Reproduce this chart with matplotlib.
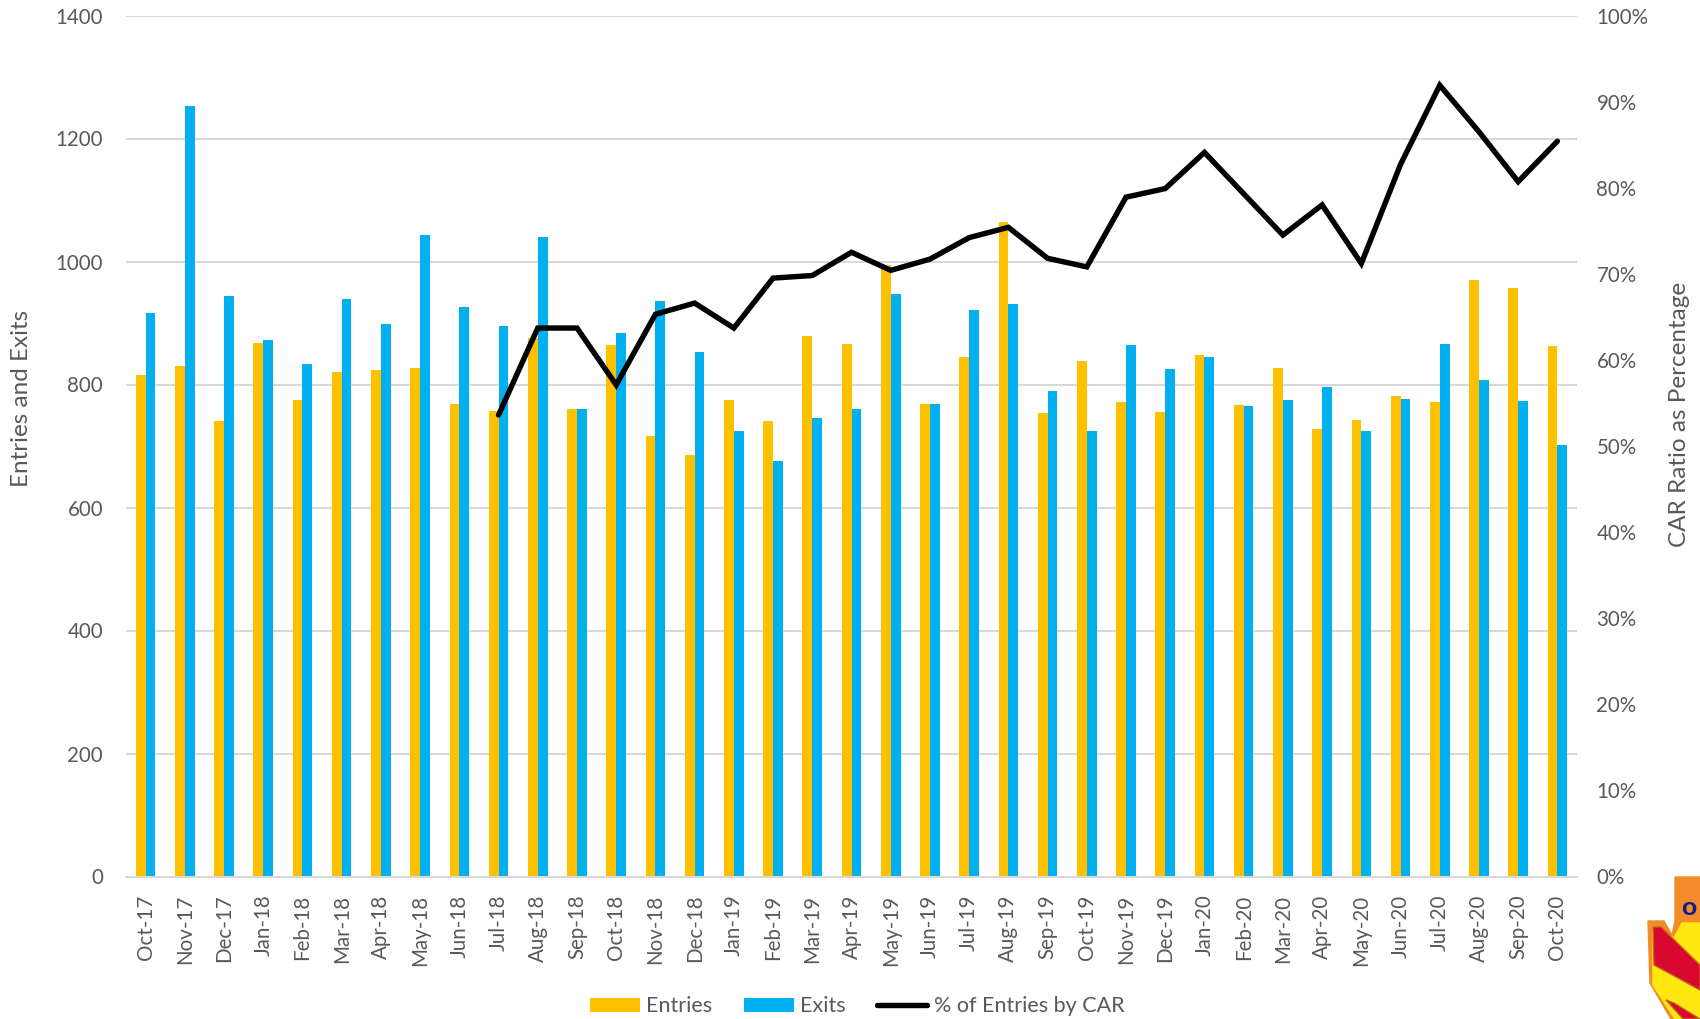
import numpy as np
import matplotlib
matplotlib.use('Agg')
from matplotlib import pyplot as plt
from matplotlib.patches import Polygon

plt.rcParams['font.family'] = ['Lato', 'DejaVu Sans']

months = ['Oct-17','Nov-17','Dec-17','Jan-18','Feb-18','Mar-18','Apr-18','May-18','Jun-18','Jul-18','Aug-18','Sep-18',
          'Oct-18','Nov-18','Dec-18','Jan-19','Feb-19','Mar-19','Apr-19','May-19','Jun-19','Jul-19','Aug-19','Sep-19',
          'Oct-19','Nov-19','Dec-19','Jan-20','Feb-20','Mar-20','Apr-20','May-20','Jun-20','Jul-20','Aug-20','Sep-20','Oct-20']
entries = [815,830,741,868,775,821,824,827,769,757,875,760,864,716,685,775,740,879,866,995,769,844,1065,754,
           838,772,755,848,767,827,727,743,781,772,970,957,863]
exits = [917,1253,944,873,833,939,899,1043,926,895,1040,760,884,936,853,725,676,745,760,947,769,921,931,790,
         724,865,825,844,765,775,796,725,776,866,808,773,701]
# CAR ratio only starts at Jul-18
car_start = 9
car_pct = [53.6,63.7,63.7,57.1,65.3,66.6,63.7,69.5,69.8,72.5,70.4,71.7,74.2,75.4,71.8,70.8,78.9,79.9,84.1,79.3,
           74.5,78.0,71.2,82.7,91.9,86.5,80.7,85.4]

W, H = 1700, 1019
grey = '#595959'
grid = '#D9D9D9'
fs = 14.8
fs_big = 17.5
fs_leg = 15.5

fig = plt.figure(figsize=(W/100, H/100), dpi=100)
ax = fig.add_axes([126/W, 1-876.5/H, (1577-126)/W, (876.5-15.5)/H])
x = np.arange(len(months))
bw = 0.25
b1 = ax.bar(x-bw/2, entries, bw, color='#FFC000', label='Entries', zorder=2)
b2 = ax.bar(x+bw/2, exits, bw, color='#00B0F0', label='Exits', zorder=2)
ax.set_xlim(-0.5, len(months)-0.5)
ax.set_ylim(0, 1400)
ax.set_yticks(range(0, 1401, 200))
ax.set_xticks(x)
ax.set_xticklabels(months, rotation=90)
ax.grid(axis='y', color=grid, lw=1.5, zorder=0)
ax.set_axisbelow(True)
ax.tick_params(axis='y', length=0, pad=16.5, labelsize=fs, labelcolor=grey)
ax.tick_params(axis='x', length=0, pad=13, labelsize=fs, labelcolor=grey)
for s in ['top', 'left', 'right']:
    ax.spines[s].set_visible(False)
ax.spines['bottom'].set_color(grid)
ax.spines['bottom'].set_linewidth(1.5)

ax2 = ax.twinx()
line, = ax2.plot(x[car_start:], np.array(car_pct)/100, color='black', lw=3.9, label='% of Entries by CAR',
                 solid_joinstyle='miter', solid_capstyle='round', zorder=5)
ax2.set_ylim(0, 1)
ax2.set_yticks(np.arange(0, 1.01, 0.1))
ax2.set_yticklabels(['%d%%' % v for v in range(0, 101, 10)])
ax2.tick_params(axis='y', length=0, pad=14, labelsize=fs, labelcolor=grey)
for s in ax2.spines.values():
    s.set_visible(False)

fig.text(22/W, 1-398/H, 'Entries and Exits', rotation=90, color=grey, fontsize=fs_big, ha='center', va='center')
fig.text(1680/W, 1-414/H, 'CAR Ratio as Percentage', rotation=90, color=grey, fontsize=fs_big, ha='center', va='center')

fig.legend(handles=[b1, b2, line], loc='center', bbox_to_anchor=(857/W, 1-1006.5/H), ncol=3, frameon=False,
           fontsize=fs_leg, labelcolor=grey, handlelength=2.33, handleheight=0.6, handletextpad=0.3, columnspacing=1.45)

# logo in the bottom corner, drawn in pixel coordinates
ov = fig.add_axes([0, 0, 1, 1], zorder=10)
ov.set_xlim(0, W)
ov.set_ylim(H, 0)
ov.axis('off')
ov.patch.set_alpha(0)
ov.add_patch(Polygon([(1675,877),(1700,877),(1700,1019),(1671,1019),(1650,983),(1648,921),(1664,921),(1672,935),(1675,921)], color='#F28C28'))
ov.add_patch(Polygon([(1674,938),(1682,923),(1700,923),(1700,1019),(1675,1019),(1653,985),(1653,928)], color='#FFE812'))
ov.add_patch(Polygon([(1653,927),(1661,927),(1700,965),(1700,990),(1654,965)], color='#D9072F', ec='#C0621E', lw=1))
ov.add_patch(Polygon([(1666,1000),(1674,1003),(1700,1019),(1683,1019)], color='#D9072F', ec='#C0621E', lw=1))
ov.text(1689, 910, 'O', color='#0A1E8C', fontsize=13, fontweight='bold', ha='center', va='center', family='DejaVu Sans')

fig.savefig('out.png', dpi=100)
plt.close()
